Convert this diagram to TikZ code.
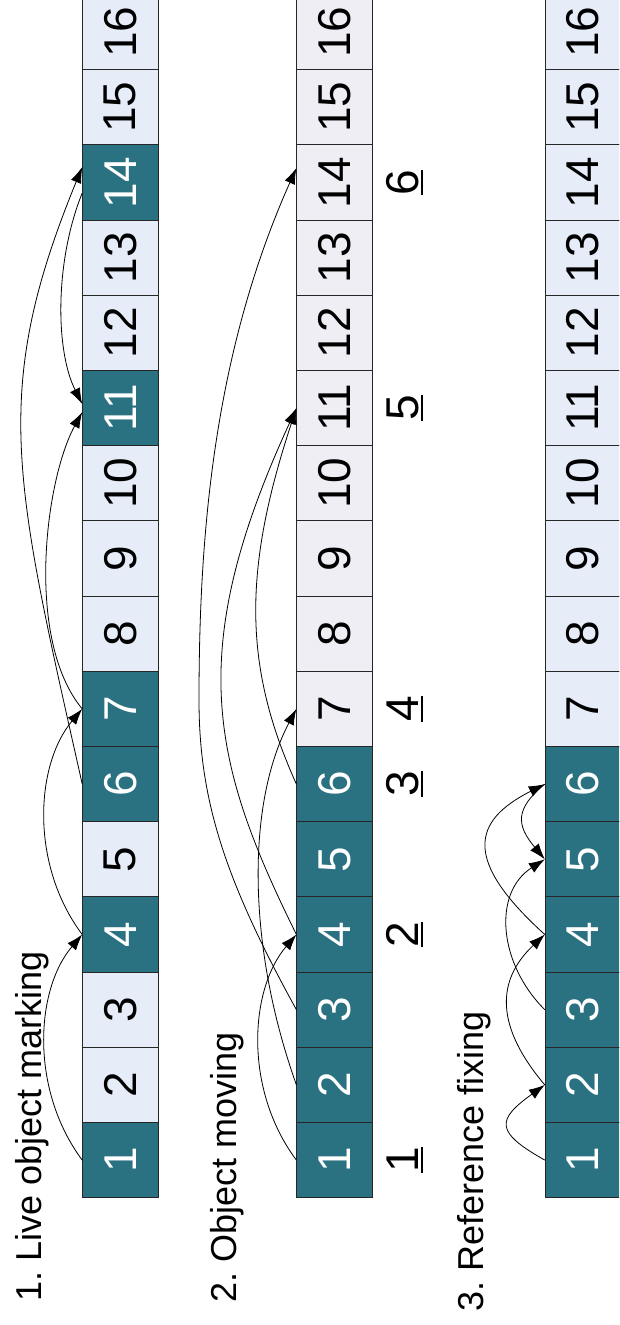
\documentclass[tikz,border=0pt]{standalone}
\usepackage{fontspec}
\setmainfont{Liberation Sans}
\usepackage{graphicx}
\usetikzlibrary{arrows.meta}

\definecolor{cellDark}{HTML}{2A7181}
\definecolor{cellLight}{HTML}{E7EDF8}
\definecolor{cellGrey}{HTML}{F0EEF5}

% underlined index printed beside the moved objects
\newcommand{\undernum}[1]{\vtop{\hbox{#1}\kern3pt\hrule height 2pt}}

\frenchspacing
\begin{document}
\begin{tikzpicture}[x=1pt,y=-1pt,
  cellbox/.style={draw=black!85, line width=0.9pt, minimum width=75.3pt,
    minimum height=75.2pt, inner sep=0pt, font=\fontsize{46}{50}\selectfont},
  title/.style={rotate=90, anchor=base west, inner sep=0pt,
    font=\fontsize{36}{40}\selectfont},
  idx/.style={rotate=90, anchor=base, inner sep=0pt,
    font=\fontsize{46}{50}\selectfont},
  ref/.style={line width=0.8pt, -{Latex[length=16pt,width=11pt]}}]

\useasboundingbox (0,0) rectangle (619,1325);
\clip (0,0) rectangle (619,1325);

% row 1: live object marking
\foreach \k/\fc/\tc in {1/cellDark/white,2/cellLight/black,3/cellLight/black,
  4/cellDark/white,5/cellLight/black,6/cellDark/white,7/cellDark/white,
  8/cellLight/black,9/cellLight/black,10/cellLight/black,11/cellDark/white,
  12/cellLight/black,13/cellLight/black,14/cellDark/white,15/cellLight/black,
  16/cellLight/black}
  \node[cellbox, fill=\fc, text=\tc] (a\k) at (120.35,{1197.7-(\k-0.5)*75.2}) {\rotatebox{90}{\k}};

% row 2: object moving
\foreach \k/\fc/\tc in {1/cellDark/white,2/cellDark/white,3/cellDark/white,
  4/cellDark/white,5/cellDark/white,6/cellDark/white,7/cellGrey/black,
  8/cellGrey/black,9/cellGrey/black,10/cellGrey/black,11/cellGrey/black,
  12/cellGrey/black,13/cellGrey/black,14/cellGrey/black,15/cellGrey/black,
  16/cellGrey/black}
  \node[cellbox, fill=\fc, text=\tc] (b\k) at (334.5,{1197.7-(\k-0.5)*75.2}) {\rotatebox{90}{\k}};

% row 3: reference fixing
\foreach \k/\fc/\tc in {1/cellDark/white,2/cellDark/white,3/cellDark/white,
  4/cellDark/white,5/cellDark/white,6/cellDark/white,7/cellLight/black,
  8/cellLight/black,9/cellLight/black,10/cellLight/black,11/cellLight/black,
  12/cellLight/black,13/cellLight/black,14/cellLight/black,15/cellLight/black,
  16/cellLight/black}
  \node[cellbox, fill=\fc, text=\tc] (r\k) at (582.9,{1197.7-(\k-0.5)*75.2}) {\rotatebox{90}{\k}};

% titles
\node[title] (t1) at (41.7,1302) {1. Live object marking};
\node[title] (t2) at (236.7,1303) {2. Object moving};
\node[title] (t3) at (483.3,1312) {3. Reference fixing};

% new indices of the live objects
\node[idx] (n1) at (418,{1197.7-0.5*75.2}) {\undernum{1}};
\node[idx] (n2) at (418,{1197.7-3.5*75.2}) {\undernum{2}};
\node[idx] (n3) at (418,{1197.7-5.5*75.2}) {\undernum{3}};
\node[idx] (n4) at (418,{1197.7-6.5*75.2}) {\undernum{4}};
\node[idx] (n5) at (418,{1197.7-10.5*75.2}) {\undernum{5}};
\node[idx] (n6) at (418,{1197.7-13.5*75.2}) {\undernum{6}};

% references in row 1
\draw[ref] (a1.west) .. controls (30,1090) and (35,990) .. (a4.west);
\draw[ref] (a4.west) .. controls (30,865) and (35,765) .. (a7.west);
\draw[ref] (a6.west) .. controls (14,480) and (-10,392) .. ([yshift=15.5pt]a14.west);
\draw[ref] (a7.west) .. controls (25,640) and (45,480) .. ([yshift=-4pt]a11.west);
\draw[ref] ([yshift=-10.5pt]a14.west) .. controls (55,260) and (55,350) .. ([yshift=4pt]a11.west);

% references in row 2 (still old addresses)
\draw[ref] (b1.west) .. controls (244,1090) and (249,990) .. (b4.west);
\draw[ref] (b2.west) .. controls (246.6,945) and (246.7,802.5) .. (b7.west);
\draw[ref] (b3.west) .. controls (225,880) and (199,800) .. (199,700)
  .. controls (199,540) and (212.5,355.5) .. ([yshift=14.5pt]b14.west);
\draw[ref] (b4.west) .. controls (210,760) and (185,650) .. (b11.west);
\draw[ref] (b6.west) .. controls (243,666) and (243,570) .. (b11.west);

% references in row 3 (fixed)
\draw[ref] (r1.west) .. controls (495,1132) and (496,1120) .. (r2.west);
\draw[ref] (r2.west) .. controls (495.6,1026.75) and (495.6,980.75) .. (r4.west);
\draw[ref] (r3.west) .. controls (498.8,964) and (492.2,893) .. (r5.west);
\draw[ref] (r4.west) .. controls (461.8,859.4) and (472.7,820.6) .. (r6.west);
\draw[ref] (r6.west) .. controls (514.7,809) and (516.3,825.1) .. (r5.west);
\end{tikzpicture}
\end{document}
